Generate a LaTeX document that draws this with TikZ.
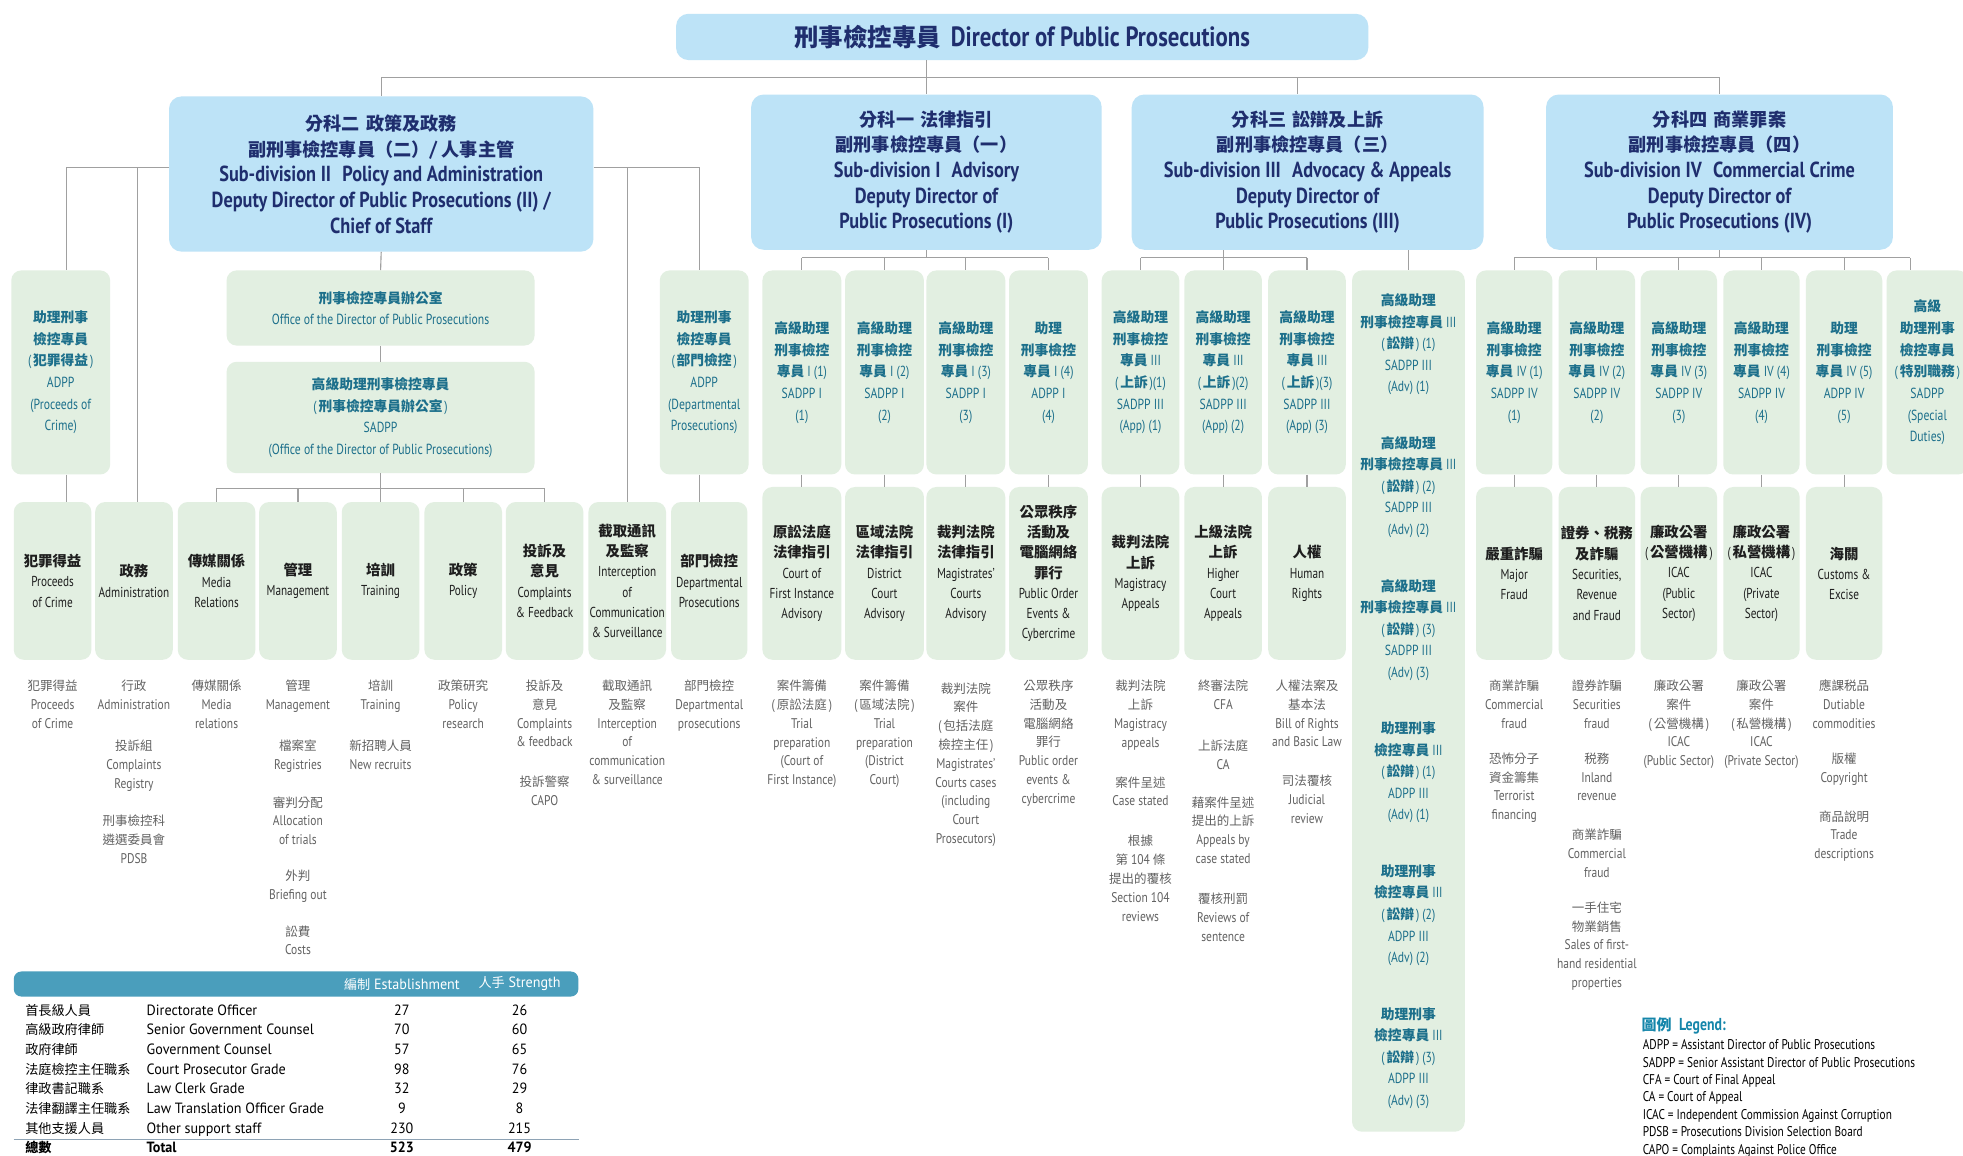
\documentclass[tikz,border=0pt]{standalone}
\usepackage{fontspec}
\setmainfont{PT Sans}[FakeStretch=0.78]
\newfontfamily\enfont{PT Sans}[FakeStretch=0.78]
\newfontfamily\enB{PT Sans}[FakeStretch=0.80, Scale=1.06]
\newfontfamily\enC{PT Sans}[FakeStretch=0.82, Scale=1.12]
\newfontfamily\enD{PT Sans}[FakeStretch=0.80, Scale=1.15]
\newfontfamily\enE{PT Sans}[FakeStretch=0.84, Scale=1.20]
\newfontfamily\enF{PT Sans}[FakeStretch=0.82, Scale=1.14]
\newfontfamily\tabfont{PT Sans}[FakeStretch=0.95, Scale=1.13]
\newfontfamily\cjkfont{Noto Sans CJK TC}
\def\zhser{\mdseries}
\def\enser{\mdseries}
\def\myen{\enfont}
\XeTeXinterchartokenstate=1
\count255="3000
\loop\XeTeXcharclass\count255=1 \ifnum\count255<"303F \advance\count255 by 1 \repeat
\count255="4E00
\loop\XeTeXcharclass\count255=1 \ifnum\count255<"9FFF \advance\count255 by 1 \repeat
\count255="FF00
\loop\XeTeXcharclass\count255=1 \ifnum\count255<"FFEF \advance\count255 by 1 \repeat
\XeTeXinterchartoks 0 1 = {\cjkfont\zhser}
\XeTeXinterchartoks 4095 1 = {\cjkfont\zhser}
\XeTeXinterchartoks 1 0 = {\myen\enser}
\XeTeXinterchartoks 1 4095 = {\myen\enser}
\newcommand\setf[5]{\def\zhser{#1}\def\enser{#2}\def\myen{#5}\fontsize{#3}{#4}#5#2}
\newcommand\pz[1]{(\hspace{1.5pt}#1\hspace{1.5pt})}
\newcommand\tabset{\def\myen{\tabfont}\fontsize{10.5}{13}\tabfont}
\definecolor{skyb}{HTML}{BDE3F7}
\definecolor{navy}{HTML}{1F2E6E}
\definecolor{pgreen}{HTML}{E2EFE1}
\definecolor{tealt}{HTML}{1C6F8B}
\definecolor{dtext}{HTML}{1E1E1E}
\definecolor{gtext}{HTML}{626262}
\definecolor{linec}{HTML}{A0A0A0}
\definecolor{theadc}{HTML}{4A9EBC}
\definecolor{legt}{HTML}{1586AA}
\definecolor{sepl}{HTML}{8EA3B5}
\begin{document}
\begin{tikzpicture}[x=1pt,y=-1pt,
  conn/.style={draw=linec, line width=0.9pt},
  bbox/.style={fill=skyb, rounded corners=10pt, inner sep=0pt, align=center, text=navy},
  subbox/.style={bbox, minimum height=124pt, font=\setf{\bfseries}{\bfseries}{14.5}{20.5}{\enE}},
  gbox/.style={fill=pgreen, rounded corners=8pt, inner sep=0pt, align=center},
  rtwo/.style={gbox, text=tealt, minimum height=163pt, font=\setf{\bfseries}{\mdseries}{11}{17.3}{\enB}},
  rthree/.style={gbox, text=dtext, minimum height=138pt, font=\setf{\bfseries}{\mdseries}{11.5}{16.2}{\enfont}},
  rthreeb/.style={rthree, minimum height=126pt},
  desc/.style={anchor=north, align=center, inner sep=0pt, text=gtext, font=\setf{\mdseries}{\mdseries}{10}{15}{\enC}},
  tcell/.style={inner sep=0pt, text=black, font=\tabset},
  tbold/.style={inner sep=0pt, text=black, font={\tabset\def\zhser{\bfseries}\def\enser{\bfseries}\bfseries}},
  hdrtxt/.style={inner sep=0pt, text=white, font=\tabset},
  legtitle/.style={inner sep=0pt, text=legt, anchor=base west, font=\setf{\bfseries}{\bfseries}{12}{14}{\enD}},
  legline/.style={inner sep=0pt, text=black, anchor=base west, font=\setf{\mdseries}{\mdseries}{9.8}{12}{\enD}}
]
\useasboundingbox (0,0) rectangle (1568,923);
\clip (0,0) rectangle (1568,923);
\fill[white] (0,0) rectangle (1568,923);

% ---------- top levels
\node[bbox, minimum width=553pt, minimum height=37pt, font=\setf{\bfseries}{\bfseries}{19.5}{22}{\enF}] (dpp) at (816.5,29.5) {刑事檢控專員\hspace{8pt}Director of Public Prosecutions};

\node[subbox, minimum width=339pt] (sub2) at (304.5,139) {分科二\hspace{5pt}政策及政務\\副刑事檢控專員（二）/ 人事主管\\Sub-division II\hspace{9pt}Policy and Administration\\Deputy Director of Public Prosecutions (II) /\\Chief of Staff};
\node[subbox, minimum width=280pt] (sub1) at (740,137.5) {分科一\hspace{5pt}法律指引\\副刑事檢控專員（一）\\Sub-division I\hspace{9pt}Advisory\\Deputy Director of\\Public Prosecutions (I)};
\node[subbox, minimum width=281pt] (sub3) at (1044.5,137.5) {分科三\hspace{5pt}訟辯及上訴\\副刑事檢控專員（三）\\Sub-division III\hspace{9pt}Advocacy \& Appeals\\Deputy Director of\\Public Prosecutions (III)};
\node[subbox, minimum width=277pt] (sub4) at (1373.5,137.5) {分科四\hspace{5pt}商業罪案\\副刑事檢控專員（四）\\Sub-division IV\hspace{9pt}Commercial Crime\\Deputy Director of\\Public Prosecutions (IV)};

% ---------- row 2
\node[rtwo, minimum width=79pt] (p1) at (48.5,297.5) {助理刑事\\檢控專員\\\pz{犯罪得益}\\ADPP\\(Proceeds of\\Crime)};
\node[rtwo, minimum width=246pt, minimum height=60pt] (off) at (304,246) {刑事檢控專員辦公室\\Office of the Director of Public Prosecutions};
\node[rtwo, minimum width=246pt, minimum height=89pt] (sap) at (304,333.5) {高級助理刑事檢控專員\\\pz{刑事檢控專員辦公室}\\SADPP\\(Office of the Director of Public Prosecutions)};
\node[rtwo, minimum width=71pt] (ad) at (562.5,297.5) {助理刑事\\檢控專員\\\pz{部門檢控}\\ADPP\\(Departmental\\Prosecutions)};

\node[rtwo, minimum width=63pt] (s11) at (640.5,297.5) {高級助理\\刑事檢控\\專員 I (1)\\SADPP I\\(1)};
\node[rtwo, minimum width=63pt] (s12) at (706.5,297.5) {高級助理\\刑事檢控\\專員 I (2)\\SADPP I\\(2)};
\node[rtwo, minimum width=63pt] (s13) at (771.5,297.5) {高級助理\\刑事檢控\\專員 I (3)\\SADPP I\\(3)};
\node[rtwo, minimum width=63pt] (s14) at (837.5,297.5) {助理\\刑事檢控\\專員 I (4)\\ADPP I\\(4)};

\node[rtwo, minimum width=62pt] (a31) at (911,297.5) {高級助理\\刑事檢控\\專員 III\\\pz{上訴}(1)\\SADPP III\\(App) (1)};
\node[rtwo, minimum width=62pt] (a32) at (977,297.5) {高級助理\\刑事檢控\\專員 III\\\pz{上訴}(2)\\SADPP III\\(App) (2)};
\node[rtwo, minimum width=62pt] (a33) at (1044,297.5) {高級助理\\刑事檢控\\專員 III\\\pz{上訴}(3)\\SADPP III\\(App) (3)};
\node[rtwo, minimum width=90pt, minimum height=688pt, font=\setf{\bfseries}{\mdseries}{11}{17.2}{\enB}] (adv) at (1125,560) {高級助理\\刑事檢控專員 III\\\pz{訟辯} (1)\\SADPP III\\(Adv) (1)\\[28pt]高級助理\\刑事檢控專員 III\\\pz{訟辯} (2)\\SADPP III\\(Adv) (2)\\[28pt]高級助理\\刑事檢控專員 III\\\pz{訟辯} (3)\\SADPP III\\(Adv) (3)\\[28pt]助理刑事\\檢控專員 III\\\pz{訟辯} (1)\\ADPP III\\(Adv) (1)\\[28pt]助理刑事\\檢控專員 III\\\pz{訟辯} (2)\\ADPP III\\(Adv) (2)\\[28pt]助理刑事\\檢控專員 III\\\pz{訟辯} (3)\\ADPP III\\(Adv) (3)};

\node[rtwo, minimum width=61pt] (c41) at (1209.5,297.5) {高級助理\\刑事檢控\\專員 IV (1)\\SADPP IV\\(1)};
\node[rtwo, minimum width=61pt] (c42) at (1275.5,297.5) {高級助理\\刑事檢控\\專員 IV (2)\\SADPP IV\\(2)};
\node[rtwo, minimum width=61pt] (c43) at (1341,297.5) {高級助理\\刑事檢控\\專員 IV (3)\\SADPP IV\\(3)};
\node[rtwo, minimum width=61pt] (c44) at (1407,297.5) {高級助理\\刑事檢控\\專員 IV (4)\\SADPP IV\\(4)};
\node[rtwo, minimum width=61pt] (c45) at (1473,297.5) {助理\\刑事檢控\\專員 IV (5)\\ADPP IV\\(5)};
\node[rtwo, minimum width=65pt] (c46) at (1539.5,297.5) {高級\\助理刑事\\檢控專員\\\pz{特別職務}\\SADPP\\(Special\\Duties)};

% ---------- row 3
\node[rthreeb, minimum width=62pt] (q1) at (42,464) {犯罪得益\\Proceeds\\of Crime};
\node[rthreeb, minimum width=62pt] (q2) at (107,464) {政務\\Administration};
\node[rthreeb, minimum width=62pt] (q3) at (173,464) {傳媒關係\\Media\\Relations};
\node[rthreeb, minimum width=62pt] (q4) at (238,464) {管理\\Management};
\node[rthreeb, minimum width=62pt] (q5) at (304,464) {培訓\\Training};
\node[rthreeb, minimum width=62pt] (q6) at (370,464) {政策\\Policy};
\node[rthreeb, minimum width=62pt] (q7) at (435,464) {投訴及\\意見\\Complaints\\\& Feedback};
\node[rthreeb, minimum width=62pt] (q8) at (501,464) {截取通訊\\及監察\\Interception\\of\\Communication\\\& Surveillance};
\node[rthreeb, minimum width=61pt] (q9) at (566.5,464) {部門檢控\\Departmental\\Prosecutions};

\node[rthree, minimum width=63pt] (t11) at (640.5,458) {原訟法庭\\法律指引\\Court of\\First Instance\\Advisory};
\node[rthree, minimum width=63pt] (t12) at (706.5,458) {區域法院\\法律指引\\District\\Court\\Advisory};
\node[rthree, minimum width=63pt] (t13) at (771.5,458) {裁判法院\\法律指引\\Magistrates’\\Courts\\Advisory};
\node[rthree, minimum width=63pt] (t14) at (837.5,458) {公眾秩序\\活動及\\電腦網絡\\罪行\\Public Order\\Events \&\\Cybercrime};

\node[rthree, minimum width=62pt] (t31) at (911,458) {裁判法院\\上訴\\Magistracy\\Appeals};
\node[rthree, minimum width=62pt] (t32) at (977,458) {上級法院\\上訴\\Higher\\Court\\Appeals};
\node[rthree, minimum width=62pt] (t33) at (1044,458) {人權\\Human\\Rights};

\node[rthree, minimum width=61pt] (t41) at (1209.5,458) {嚴重詐騙\\Major\\Fraud};
\node[rthree, minimum width=61pt] (t42) at (1275.5,458) {證券、税務\\及詐騙\\Securities,\\Revenue\\and Fraud};
\node[rthree, minimum width=61pt] (t43) at (1341,458) {廉政公署\\\pz{公營機構}\\ICAC\\(Public\\Sector)};
\node[rthree, minimum width=61pt] (t44) at (1407,458) {廉政公署\\\pz{私營機構}\\ICAC\\(Private\\Sector)};
\node[rthree, minimum width=61pt] (t45) at (1473,458) {海關\\Customs \&\\Excise};

% ---------- descriptions
\node[desc] (d1) at (42,543) {犯罪得益\\Proceeds\\of Crime};
\node[desc] (d2) at (107,543) {行政\\Administration\\[18pt]投訴組\\Complaints\\Registry\\[15pt]刑事檢控科\\遴選委員會\\PDSB};
\node[desc] (d3) at (173,543) {傳媒關係\\Media\\relations};
\node[desc] (d4) at (238,543) {管理\\Management\\[18pt]檔案室\\Registries\\[15pt]審判分配\\Allocation\\of trials\\[14pt]外判\\Briefing out\\[14pt]訟費\\Costs};
\node[desc] (d5) at (304,543) {培訓\\Training\\[18pt]新招聘人員\\New recruits};
\node[desc] (d6) at (370,543) {政策研究\\Policy\\research};
\node[desc] (d7) at (435,543) {投訴及\\意見\\Complaints\\\& feedback\\[17pt]投訴警察\\CAPO};
\node[desc] (d8) at (501,543) {截取通訊\\及監察\\Interception\\of\\communication\\\& surveillance};
\node[desc] (d9) at (566.5,543) {部門檢控\\Departmental\\prosecutions};

\node[desc] (e11) at (640.5,543) {案件籌備\\\pz{原訟法庭}\\Trial\\preparation\\(Court of\\First Instance)};
\node[desc] (e12) at (706.5,543) {案件籌備\\\pz{區域法院}\\Trial\\preparation\\(District\\Court)};
\node[desc] (e13) at (771.5,545) {裁判法院\\案件\\(\hspace{1.5pt}包括法庭\\檢控主任\hspace{1.5pt})\\Magistrates’\\Courts cases\\(including\\Court\\Prosecutors)};
\node[desc] (e14) at (837.5,543) {公眾秩序\\活動及\\電腦網絡\\罪行\\Public order\\events \&\\cybercrime};

\node[desc] (e31) at (911,543) {裁判法院\\上訴\\Magistracy\\appeals\\[17pt]案件呈述\\Case stated\\[17pt]根據\\第 104 條\\提出的覆核\\Section 104\\reviews};
\node[desc] (e32) at (977,543) {終審法院\\CFA\\[18pt]上訴法庭\\CA\\[15pt]藉案件呈述\\提出的上訴\\Appeals by\\case stated\\[17pt]覆核刑罰\\Reviews of\\sentence};
\node[desc] (e33) at (1044,543) {人權法案及\\基本法\\Bill of Rights\\and Basic Law\\[16pt]司法覆核\\Judicial\\review};

\node[desc] (e41) at (1209.5,543) {商業詐騙\\Commercial\\fraud\\[13pt]恐怖分子\\資金籌集\\Terrorist\\financing};
\node[desc] (e42) at (1275.5,543) {證券詐騙\\Securities\\fraud\\[13pt]税務\\Inland\\revenue\\[16pt]商業詐騙\\Commercial\\fraud\\[13pt]一手住宅\\物業銷售\\Sales of first-\\hand residential\\properties};
\node[desc] (e43) at (1341,543) {廉政公署\\案件\\\pz{公營機構}\\ICAC\\(Public Sector)};
\node[desc] (e44) at (1407,543) {廉政公署\\案件\\\pz{私營機構}\\ICAC\\(Private Sector)};
\node[desc] (e45) at (1473,543) {應課税品\\Dutiable\\commodities\\[13pt]版權\\Copyright\\[16pt]商品說明\\Trade\\descriptions};

% ---------- connectors
\coordinate (mb) at (0,62);
\coordinate (busA) at (0,206);
\coordinate (busB) at (0,390);
\coordinate (sideL) at (0,134);

\draw[conn] (sub1.north |- dpp.south) -- (sub1.north);
\draw[conn] (sub2.north |- mb) -- (sub4.north |- mb);
\draw[conn] (sub2.north |- mb) -- (sub2.north);
\draw[conn] ([xshift=-8pt]sub3.north |- mb) -- ([xshift=-8pt]sub3.north);
\draw[conn] (sub4.north |- mb) -- (sub4.north);

\draw[conn] (sub2.west |- sideL) -| ([xshift=4.5pt]p1.north);
\draw[conn] (sub2.east |- sideL) -| ([xshift=-3.5pt]ad.north);
\draw[conn] ([xshift=3pt]q2.north |- sideL) -- ([xshift=3pt]q2.north);
\draw[conn] (q8.north |- sideL) -- (q8.north);
\draw[conn] ([xshift=4.5pt]p1.south) -- ([xshift=4.5pt]p1.south |- q1.north);
\draw[conn] ([xshift=-3.5pt]ad.south) -- ([xshift=-3.5pt]ad.south |- q9.north);
\draw[conn] (sub2.south) -- (off.north);
\draw[conn] (off.south) -- (sap.north);
\draw[conn] (sap.south) -- (sap.south |- busB);
\draw[conn] (q3.north |- busB) -- (q7.north |- busB);
\foreach \n in {q3,q4,q5,q6,q7} \draw[conn] (\n.north |- busB) -- (\n.north);

\draw[conn] (sub1.south) -- (sub1.south |- busA);
\draw[conn] (s11.north |- busA) -- (s14.north |- busA);
\foreach \k in {1,2,3,4} {
  \draw[conn] (s1\k.north |- busA) -- (s1\k.north);
  \draw[conn] (s1\k.south) -- (t1\k.north);
}

\draw[conn] (a32.north |- sub3.south) -- (a32.north |- busA);
\draw[conn] (a31.north |- busA) -- (a33.north |- busA);
\draw[conn] (adv.north |- sub3.south) -- (adv.north);
\foreach \k in {1,2,3} {
  \draw[conn] (a3\k.north |- busA) -- (a3\k.north);
  \draw[conn] (a3\k.south) -- (t3\k.north);
}

\draw[conn] (sub4.south) -- (sub4.south |- busA);
\draw[conn] (c41.north |- busA) -- ([xshift=-13.5pt]c46.north |- busA);
\draw[conn] ([xshift=-13.5pt]c46.north |- busA) -- ([xshift=-13.5pt]c46.north);
\foreach \k in {1,2,3,4,5} {
  \draw[conn] (c4\k.north |- busA) -- (c4\k.north);
  \draw[conn] (c4\k.south) -- (t4\k.north);
}

% ---------- table
\node[fill=theadc, rounded corners=6pt, minimum width=451pt, minimum height=20pt, inner sep=0pt] (thd) at (236.5,786) {};
\node[hdrtxt] (th1) at (321,786) {編制 Establishment};
\node[hdrtxt] (th2) at (415,786) {人手 Strength};
\foreach \cz/\ce/\ca/\cb [count=\i] in {首長級人員/Directorate Officer/27/26, 高級政府律師/Senior Government Counsel/70/60, 政府律師/Government Counsel/57/65, 法庭檢控主任職系/Court Prosecutor Grade/98/76, 律政書記職系/Law Clerk Grade/32/29, 法律翻譯主任職系/Law Translation Officer Grade/9/8, 其他支援人員/Other support staff/230/215}{
  \pgfmathsetmacro\yy{811+15.7*(\i-1)}
  \node[tcell, anchor=base west] (tz\i) at (20,\yy) {\cz};
  \node[tcell, anchor=base west] (te\i) at (117,\yy) {\ce};
  \node[tcell, anchor=base] (ta\i) at (321,\yy) {\ca};
  \node[tcell, anchor=base] (tb\i) at (415,\yy) {\cb};
}
\coordinate (sepy) at (0,910);
\draw[draw=sepl, line width=1.2pt] (thd.west |- sepy) -- (thd.east |- sepy);
\node[tbold, anchor=base west] (tzT) at (20,920.9) {總數};
\node[tbold, anchor=base west] (teT) at (117,920.9) {Total};
\node[tbold, anchor=base] (taT) at (321,920.9) {523};
\node[tbold, anchor=base] (tbT) at (415,920.9) {479};

% ---------- legend
\node[legtitle] (lgt) at (1311,823.5) {圖例\hspace{6pt}Legend:};
\foreach \t [count=\i] in {ADPP = Assistant Director of Public Prosecutions, SADPP = Senior Assistant Director of Public Prosecutions, CFA = Court of Final Appeal, CA = Court of Appeal, ICAC = Independent Commission Against Corruption, PDSB = Prosecutions Division Selection Board, CAPO = Complaints Against Police Office}{
  \pgfmathsetmacro\yy{838.5+13.9*(\i-1)}
  \node[legline] (lg\i) at (1312,\yy) {\t};
}
\end{tikzpicture}
\end{document}
